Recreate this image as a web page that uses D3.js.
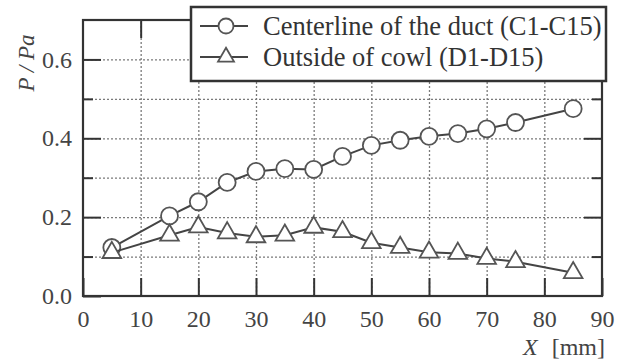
<!DOCTYPE html>
<html>
<head>
<meta charset="utf-8">
<script src="https://cdn.jsdelivr.net/npm/d3@7"></script>
<style>
  body { margin: 0; background: #fff; }
  svg { display: block; }
  text { font-family: "Liberation Serif", "Times New Roman", serif; }
</style>
</head>
<body>
<script>
const WIDTH = 628, HEIGHT = 363;
const margin = {left: 83, right: 26, top: 20, bottom: 67};
const R = 8.5;

// x positions of taps [mm]
const xPos = [5, 15, 20, 25, 30, 35, 40, 45, 50, 55, 60, 65, 70, 75, 85];
// P / Pa, centerline of the duct (C1-C15)
const centerline = [0.123, 0.203, 0.239, 0.288, 0.316, 0.323, 0.321, 0.354, 0.382, 0.395, 0.405, 0.412, 0.424, 0.44, 0.475];
// P / Pa, outside of cowl (D1-D15)
const cowl = [0.11, 0.154, 0.175, 0.16, 0.15, 0.154, 0.174, 0.163, 0.135, 0.123, 0.111, 0.108, 0.095, 0.087, 0.059];

const xTicks = [0, 10, 20, 30, 40, 50, 60, 70, 80, 90];
const yMajor = [0, 0.2, 0.4, 0.6];
const yMinor = [0.1, 0.3, 0.5];
const seriesNames = ["Centerline of the duct (C1-C15)", "Outside of cowl (D1-D15)"];

const w = WIDTH - margin.left - margin.right,
      h = HEIGHT - margin.top - margin.bottom;

const svg = d3.select("body").append("svg")
    .attr("width", WIDTH).attr("height", HEIGHT);

const g = svg.append("g").attr("transform", `translate(${margin.left},${margin.top})`);

const x = d3.scaleLinear().domain([0, 90]).range([0, w]);
const y = d3.scaleLinear().domain([0, 0.7]).range([h, 0]);

// dotted grid
g.append("g").attr("class", "grid")
    .attr("transform", `translate(0,${h})`)
    .call(d3.axisBottom(x).tickValues(xTicks.slice(1, -1)).tickSize(-h).tickFormat(""));
g.append("g").attr("class", "grid")
    .call(d3.axisLeft(y).tickValues(d3.range(1, 7).map(d => d / 10)).tickSize(-w).tickFormat(""));
g.selectAll(".grid path").remove();
g.selectAll(".grid line")
    .style("stroke", "#7a7a7a").style("stroke-width", 1.3).style("stroke-dasharray", "2,2");

// inward ticks
g.append("g").attr("transform", `translate(0,${h})`)
    .call(d3.axisBottom(x).tickValues(xTicks).tickSizeInner(-18).tickSizeOuter(0).tickPadding(14));
g.append("g")
    .call(d3.axisTop(x).tickValues(xTicks.slice(1, -1)).tickSize(-18).tickFormat(""));
g.append("g")
    .call(d3.axisLeft(y).tickValues(yMajor).tickSizeInner(-18).tickSizeOuter(0).tickPadding(11).tickFormat(d3.format(".1f")));
g.append("g")
    .call(d3.axisLeft(y).tickValues(yMinor).tickSize(-10).tickFormat(""));
g.append("g").attr("transform", `translate(${w},0)`)
    .call(d3.axisRight(y).tickValues(yMajor.slice(1)).tickSize(-18).tickFormat(""));
g.append("g").attr("transform", `translate(${w},0)`)
    .call(d3.axisRight(y).tickValues(yMinor).tickSize(-10).tickFormat(""));

g.selectAll(".domain").remove();
g.selectAll("g:not(.grid) > .tick line").style("stroke", "#333").style("stroke-width", 2);
g.selectAll(".tick text")
    .style("font-family", "Liberation Serif, serif")
    .style("font-size", "24px").style("fill", "#444");

// frame
g.append("rect").attr("width", w).attr("height", h)
    .attr("fill", "none").attr("stroke", "#333").attr("stroke-width", 2.2);

// series
const line = d3.line().x((d, i) => x(xPos[i])).y(d => y(d));
const tri = d3.symbol(d3.symbolTriangle, 150);

g.append("path").datum(centerline).attr("d", line)
    .attr("fill", "none").attr("stroke", "#444").attr("stroke-width", 2);
g.selectAll(".c").data(centerline).enter().append("circle")
    .attr("cx", (d, i) => x(xPos[i])).attr("cy", d => y(d)).attr("r", R)
    .attr("fill", "#fff").attr("stroke", "#555").attr("stroke-width", 1.8);

g.append("path").datum(cowl).attr("d", line)
    .attr("fill", "none").attr("stroke", "#444").attr("stroke-width", 2);
g.selectAll(".t").data(cowl).enter().append("path")
    .attr("d", tri)
    .attr("transform", (d, i) => `translate(${x(xPos[i])},${y(d)})`)
    .attr("fill", "#fff").attr("stroke", "#555").attr("stroke-width", 1.8);

// legend
const lg = svg.append("g").attr("transform", "translate(191,7)");
lg.append("rect").attr("width", 415).attr("height", 74)
    .attr("fill", "#fff").attr("stroke", "#333").attr("stroke-width", 2.5);
seriesNames.forEach((name, i) => {
  const yy = 19 + i * 31;
  lg.append("line").attr("x1", 9).attr("x2", 57).attr("y1", yy).attr("y2", yy)
      .attr("stroke", "#444").attr("stroke-width", 2);
  if (i === 0) {
    lg.append("circle").attr("cx", 35).attr("cy", yy).attr("r", 7.5)
        .attr("fill", "#fff").attr("stroke", "#555").attr("stroke-width", 1.8);
  } else {
    lg.append("path").attr("d", d3.symbol(d3.symbolTriangle, 110))
        .attr("transform", `translate(35,${yy})`)
        .attr("fill", "#fff").attr("stroke", "#555").attr("stroke-width", 1.8);
  }
  lg.append("text").attr("x", 72).attr("y", yy).attr("dy", "0.35em")
      .style("font-size", "26.5px").style("fill", "#333").text(name);
});

// axis titles
svg.append("text")
    .attr("transform", "translate(34,63) rotate(-90)")
    .attr("text-anchor", "middle")
    .style("font-size", "23px").style("font-style", "italic").style("fill", "#444")
    .text("P / Pa");

const xt = svg.append("text").attr("x", 605).attr("y", 355).attr("text-anchor", "end")
    .style("font-size", "24px").style("fill", "#444");
xt.append("tspan").style("font-style", "italic").text("X");
xt.append("tspan").attr("dx", 8).text(" [mm]");
</script>
</body>
</html>
